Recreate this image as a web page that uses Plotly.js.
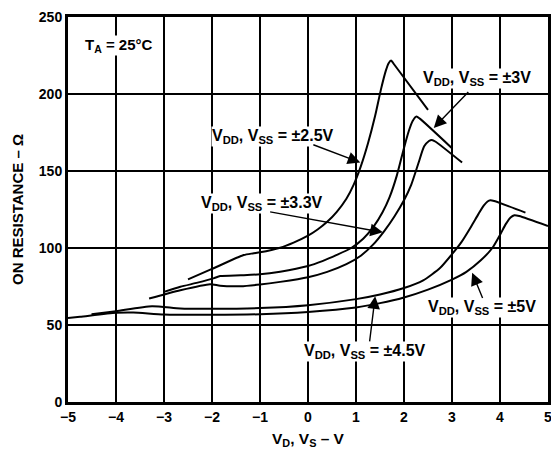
<!DOCTYPE html>
<html>
<head>
<meta charset="utf-8">
<script src="https://cdn.plot.ly/plotly-3.0.1.min.js"></script>
<style>
  html, body { margin: 0; padding: 0; background: #fff; }
  #chart { width: 551px; height: 450px; }
</style>
</head>
<body>
<div id="chart"></div>
<script>
// On resistance vs. source/drain voltage, T_A = 25°C, for several supply settings.

// VDD, VSS = ±2.5V
const x25 = [-2.5, -2.0, -1.34, -1.15, -1.0, -0.58, -0.3, 0, 0.2, 0.4, 0.6, 0.8, 0.95, 1.1, 1.25, 1.4, 1.52, 1.62, 1.68, 1.73, 1.8, 2.5];
const y25 = [79.6, 86.4, 95.4, 96.5, 97.2, 100.2, 103.5, 108, 112, 117, 123.5, 132, 141, 153, 168, 186, 203, 215, 220, 221.8, 219, 189.7];

// VDD, VSS = ±3V
const x30 = [-3.0, -2.66, -2.3, -1.97, -1.83, -1.4, -1.0, -0.58, 0, 0.3, 0.6, 0.9, 1.15, 1.37, 1.55, 1.7, 1.85, 2.0, 2.1, 2.18, 2.26, 2.33, 3.0];
const y30 = [71.5, 74.8, 77.5, 80.3, 81.8, 82.3, 82.9, 84.6, 88.3, 91.5, 95.5, 100, 106, 114, 123, 133, 147, 165, 176, 182.5, 185.4, 184, 164.8];

// VDD, VSS = ±3.3V
const x33 = [-3.31, -2.66, -2.04, -1.83, -1.41, -1.0, -0.58, 0, 0.4, 0.8, 1.1, 1.35, 1.6, 1.8, 2.0, 2.15, 2.3, 2.42, 2.52, 2.58, 2.66, 3.21];
const y33 = [67.2, 72.6, 76.5, 75.5, 75.2, 76.3, 78.0, 81, 84.5, 89.5, 95, 102, 111.5, 120.5, 131, 141, 155, 166, 169.5, 170.2, 169, 155.5];

// VDD, VSS = ±4.5V
const x45 = [-4.51, -4.0, -3.25, -2.66, -2.0, -1.0, 0, 1.0, 1.5, 2.0, 2.4, 2.75, 3.0, 3.2, 3.4, 3.55, 3.66, 3.74, 3.8, 3.88, 4.53];
const y45 = [57.0, 59.0, 62.2, 60.7, 60.5, 61.0, 62.9, 66.8, 69.8, 74.0, 79, 87, 96, 104, 114, 122, 127.5, 130.2, 131, 130.5, 123];

// VDD, VSS = ±5V
const x50 = [-5.0, -4.75, -4.0, -3.64, -3.0, -2.0, -1.0, 0, 1.0, 1.5, 2.0, 2.5, 3.0, 3.3, 3.6, 3.84, 4.0, 4.12, 4.22, 4.3, 4.4, 5.0];
const y50 = [54.5, 55.3, 57.9, 58.1, 56.8, 56.6, 57.0, 58.5, 61.4, 64.2, 67.9, 73, 79.5, 84.5, 92, 100, 108.5, 115.5, 119.8, 121.3, 120.8, 114.3];

// Curve labels: text, text centre, arrow tail, arrow tip (data units)
const labelText = [
  'V<sub>DD</sub>, V<sub>SS</sub> = ±3V',
  'V<sub>DD</sub>, V<sub>SS</sub> = ±2.5V',
  'V<sub>DD</sub>, V<sub>SS</sub> = ±3.3V',
  'V<sub>DD</sub>, V<sub>SS</sub> = ±4.5V',
  'V<sub>DD</sub>, V<sub>SS</sub> = ±5V'
];
const labelX = [3.52, -0.735, -0.965, 1.19, 3.62];
const labelY = [209.9, 172.5, 128.9, 32.6, 61.3];
const tailX = [3.37, 0.08, -0.82, 1.28, 3.65];
const tailY = [202.3, 167.4, 123.6, 38.4, 66.6];
const tipX = [2.62, 1.09, 1.56, 1.40, 3.42];
const tipY = [178.0, 155.5, 110.2, 68.7, 83.9];

const FONT = 'Liberation Sans, Arial, Helvetica, sans-serif';

const curves = [[x25, y25], [x30, y30], [x33, y33], [x45, y45], [x50, y50]];
const data = curves.map(([xs, ys]) => ({
  x: xs, y: ys,
  type: 'scatter', mode: 'lines',
  line: { color: '#000', width: 2, shape: 'spline', smoothing: 0.6 },
  hoverinfo: 'skip', showlegend: false
}));

const annotations = [];
labelText.forEach((t, i) => {
  annotations.push({
    x: labelX[i], y: labelY[i], xref: 'x', yref: 'y',
    text: t, showarrow: false,
    font: { family: FONT, size: 16, color: '#000', weight: 'bold' },
    bgcolor: '#fff', borderpad: 0
  });
  annotations.push({
    x: tipX[i], y: tipY[i], ax: tailX[i], ay: tailY[i],
    xref: 'x', yref: 'y', axref: 'x', ayref: 'y',
    text: '', showarrow: true,
    arrowhead: 2, arrowsize: 1.8, arrowwidth: 1.4, arrowcolor: '#000',
    standoff: 0, startstandoff: 0
  });
});
annotations.push({
  x: -3.94, y: 231.7, xref: 'x', yref: 'y',
  text: 'T<sub>A</sub> = 25°C', showarrow: false,
  font: { family: FONT, size: 15, color: '#000', weight: 'bold' },
  bgcolor: '#fff', borderpad: 0
});

const axisCommon = {
  showgrid: true, gridcolor: '#000', gridwidth: 1.5,
  zeroline: false,
  showline: true, linecolor: '#000', linewidth: 3, mirror: true,
  ticks: '',
  ticklabeloverflow: 'allow',
  tickfont: { family: FONT, size: 14, color: '#000', weight: 'bold' },
  fixedrange: true
};

const layout = {
  width: 551, height: 450,
  margin: { l: 68, r: 3, t: 17, b: 48 },
  paper_bgcolor: '#fff', plot_bgcolor: '#fff',
  xaxis: Object.assign({}, axisCommon, {
    range: [-5, 5], dtick: 1, tick0: -5,
    title: { text: 'V<sub>D</sub>, V<sub>S</sub> – V', standoff: 10,
             font: { family: FONT, size: 15.5, color: '#000', weight: 'bold' } }
  }),
  yaxis: Object.assign({}, axisCommon, {
    range: [0, 250], dtick: 50, tick0: 0,
    title: { text: 'ON RESISTANCE – Ω', standoff: 12,
             font: { family: FONT, size: 15, color: '#000', weight: 'bold' } }
  }),
  annotations: annotations,
  showlegend: false
};

Plotly.newPlot('chart', data, layout, { displayModeBar: false, staticPlot: true });
</script>
</body>
</html>
